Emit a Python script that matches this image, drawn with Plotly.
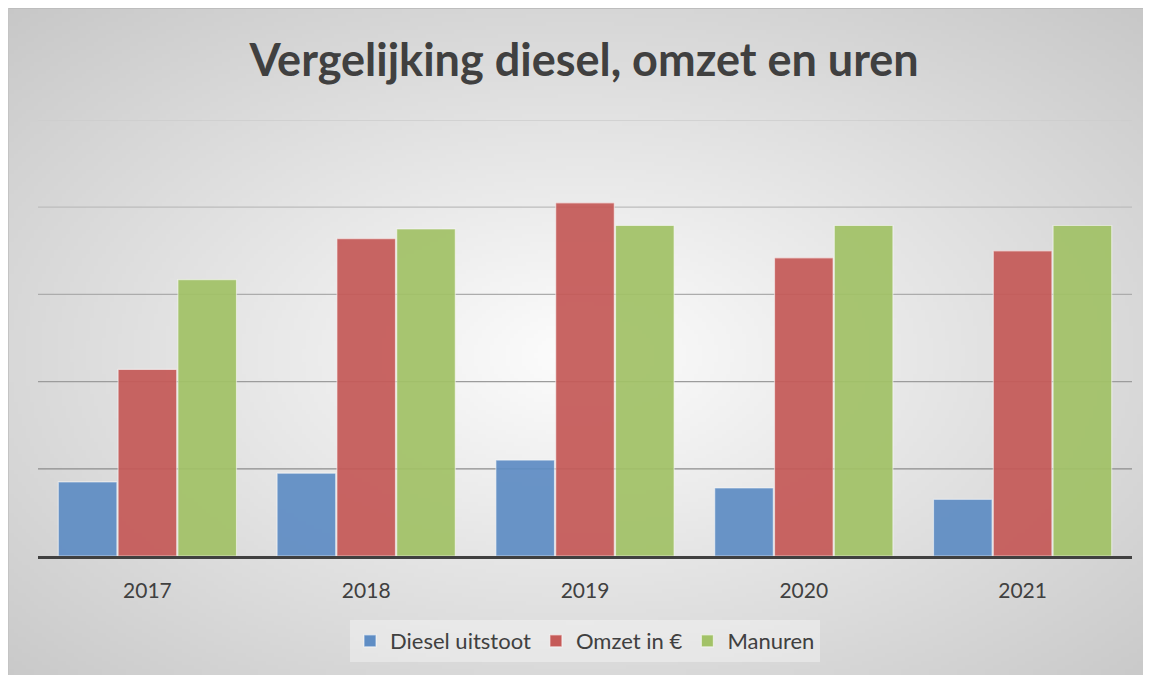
import base64, struct, zlib
import numpy as np
import plotly.graph_objects as go

# ---------------- data ----------------
years = ["2017", "2018", "2019", "2020", "2021"]
diesel = [0.85, 0.95, 1.10, 0.78, 0.65]
omzet = [2.14, 3.64, 4.05, 3.42, 3.50]
manuren = [3.17, 3.75, 3.79, 3.79, 3.79]
series_names = ["Diesel uitstoot", "Omzet in €", "Manuren"]
grid_values = [1, 2, 3, 4, 5]

# ---------------- style ----------------
W, H = 1143, 667
L, R, T, B = 30, 19, 112, 119
PW, PH = W - L - R, H - T - B
colors = ["#5f8dc4", "#c55a58", "#a2c267"]
grid_colors = ["#8c8c8c", "#9c9c9c", "#acacac", "#bcbcbc", "#cdcdcd"]
FONT = "Lato"


def gradient_png(w, h):
    ys, xs = np.mgrid[0:h, 0:w]
    dx = (xs + 0.5 - w * 0.5) / (w * 0.5)
    dy = (ys + 0.5 - h * 0.52) / (h * 0.5)
    r = np.sqrt(dx ** 2 + dy ** 2)
    c = np.clip(253 - 37 * r, 198, 255).astype(np.uint8)
    raw = b"".join(b"\x00" + bytes(np.repeat(row, 3)) for row in c)

    def chunk(tag, data):
        return struct.pack(">I", len(data)) + tag + data + struct.pack(">I", zlib.crc32(tag + data) & 0xffffffff)

    png = b"\x89PNG\r\n\x1a\n" + chunk(b"IHDR", struct.pack(">IIBBBBB", w, h, 8, 2, 0, 0, 0))
    png += chunk(b"IDAT", zlib.compress(raw, 9)) + chunk(b"IEND", b"")
    return "data:image/png;base64," + base64.b64encode(png).decode()


fig = go.Figure()
for name, vals, col in zip(series_names, [diesel, omzet, manuren], colors):
    fig.add_trace(go.Bar(
        x=years, y=vals, name=name,
        marker=dict(color=col, opacity=0.93, line=dict(color="rgba(255,255,255,0.55)", width=1.2)),
        hoverinfo="x+y+name",
    ))

shapes = []
for gv, gc in zip(grid_values, grid_colors):
    shapes.append(dict(type="line", xref="paper", yref="y", x0=0, x1=1, y0=gv, y1=gv,
                       line=dict(color=gc, width=1.3), layer="below"))
# frame edges
shapes.append(dict(type="line", xref="paper", yref="paper", x0=-L / PW, x1=1 + R / PW,
                   y0=1 + T / PH, y1=1 + T / PH, line=dict(color="#bdbdbd", width=2)))
shapes.append(dict(type="line", xref="paper", yref="paper", x0=-L / PW, x1=-L / PW,
                   y0=-B / PH, y1=1 + T / PH, line=dict(color="#c4c4c4", width=2)))

fig.update_layout(
    width=W, height=H,
    margin=dict(l=L, r=R, t=T, b=B, pad=0),
    paper_bgcolor="white",
    plot_bgcolor="rgba(0,0,0,0)",
    barmode="group", bargap=0.18, bargroupgap=0.02,
    font=dict(family=FONT, color="#404040"),
    title=dict(text="<b>Vergelijking diesel, omzet en uren</b>", x=0.504, xanchor="center",
               y=1 - 52 / H, yanchor="middle", font=dict(size=45, color="#404040", family=FONT)),
    xaxis=dict(showgrid=False, showline=True, linecolor="#404040", linewidth=3,
               ticks="", tickfont=dict(size=21, color="#404040"), ticklabelstandoff=14,
               fixedrange=True),
    yaxis=dict(range=[0, 5], showgrid=False, zeroline=False, showticklabels=False,
               ticks="", fixedrange=True),
    legend=dict(orientation="h", x=0.5, xanchor="center", y=-85 / PH, yanchor="middle",
                font=dict(size=22, color="#404040"), bgcolor="rgba(255,255,255,0.35)",
                itemclick=False, itemdoubleclick=False),
    shapes=shapes,
    images=[dict(source=gradient_png(286, 167), xref="paper", yref="paper",
                 x=-L / PW, y=1 + T / PH, sizex=W / PW, sizey=H / PH,
                 xanchor="left", yanchor="top", sizing="stretch", layer="below")],
    showlegend=True,
)

fig.write_html("out.html")
